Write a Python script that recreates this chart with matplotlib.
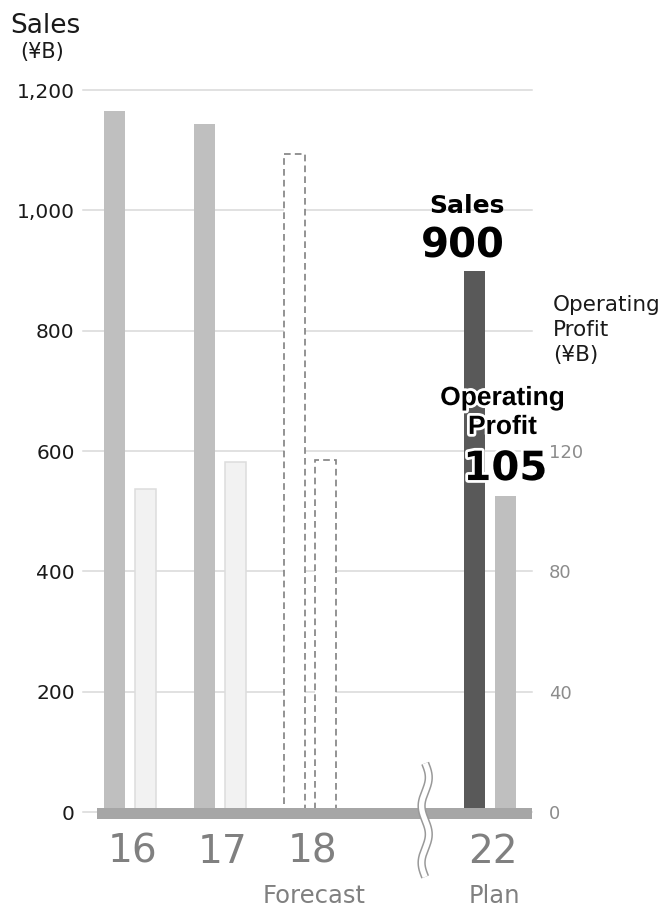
import numpy as np
import matplotlib
matplotlib.use("Agg")
import matplotlib.pyplot as plt
import matplotlib.patheffects as pe
from matplotlib.patches import Rectangle

# data
years = ['16', '17', '18', '22']
sublabels = ['', '', 'Forecast', 'Plan']
sales = [1165, 1143, 1094, 900]          # ¥B
profit = [107.5, 116.5, 117, 105]        # ¥B
sales_ticks = [0, 200, 400, 600, 800, 1000, 1200]
profit_ticks = [0, 40, 80, 120]

# layout
xpos = np.array([0, 1, 2, 4.0])
off = 0.17
width = 0.235
sales_colors = ['#bfbfbf', '#bfbfbf', 'white', '#595959']
profit_colors = ['#f2f2f2', '#f2f2f2', 'white', '#bfbfbf']

fig = plt.figure(figsize=(6.65, 9.1), dpi=100)
ax = fig.add_axes([83 / 665, 98 / 910, 449 / 665, 722 / 910])
ax2 = ax.twinx()

ax.set_xlim(-0.522, 4.467)
ax.set_ylim(0, 1200)
ax2.set_ylim(0, 240)

# gridlines
for t in sales_ticks:
    ax.axhline(t, color='#d9d9d9', lw=1.1, zorder=0, clip_on=False)

# sales bars
for i in range(len(years)):
    if sublabels[i] == 'Forecast':
        ax.bar(xpos[i] - off, sales[i], width, facecolor='white', edgecolor='#808080',
               lw=1.2, linestyle=(0, (4, 2.5)), zorder=2)
    else:
        ax.bar(xpos[i] - off, sales[i], width, color=sales_colors[i], zorder=2)

# profit bars (right scale)
for i in range(len(years)):
    if sublabels[i] == 'Forecast':
        ax2.bar(xpos[i] + off, profit[i], width, facecolor='white', edgecolor='#808080',
                lw=1.2, linestyle=(0, (4, 2.5)), zorder=2)
    elif sublabels[i] == 'Plan':
        ax2.bar(xpos[i] + off, profit[i], width, color=profit_colors[i], zorder=2)
    else:
        ax2.bar(xpos[i] + off, profit[i], width, facecolor=profit_colors[i],
                edgecolor='#dcdcdc', lw=1.1, zorder=2)

# thick base band
ax2.add_patch(Rectangle((-0.367, -12), 4.834, 19, transform=ax.transData,
                        color='#a6a6a6', lw=0, clip_on=False, zorder=3))

# axis break symbol
t = np.linspace(0, 1, 200)
bx = 3.28 + 0.04 * np.sin(2 * np.pi * 2 * t)
by = 81 - 189 * t
ax2.plot(bx, by, color='#999999', lw=6, solid_capstyle='butt',
         transform=ax.transData, clip_on=False, zorder=4)
ax2.plot(bx, by, color='white', lw=3.8, solid_capstyle='butt',
         transform=ax.transData, clip_on=False, zorder=5)

# ticks
for a in (ax, ax2):
    for s in a.spines.values():
        s.set_visible(False)
    a.tick_params(length=0)
ax.set_xticks([])
ax.set_yticks(sales_ticks)
ax.set_yticklabels([f'{v:,}' for v in sales_ticks], fontsize=14.5, color='#1a1a1a')
ax.tick_params(axis='y', pad=6)
ax2.set_yticks(profit_ticks)
ax2.set_yticklabels([str(v) for v in profit_ticks], fontsize=13, color='#8c8c8c')
ax2.tick_params(axis='y', pad=12)

# category labels
for i in range(len(years)):
    ax2.text(xpos[i] + 0.03, -66, years[i], transform=ax.transData, ha='center',
             va='center', fontsize=28, color='#808080', clip_on=False)
    if sublabels[i]:
        ax2.text(xpos[i] + 0.05, -140, sublabels[i], transform=ax.transData,
                 ha='center', va='center', fontsize=17.5, color='#808080', clip_on=False)

# plan annotations
ax2.text(xpos[3] - 0.26, 1008, 'Sales', transform=ax.transData, ha='center',
         va='center', fontsize=18, fontweight='bold', color='black', zorder=6)
ax2.text(xpos[3] - 0.30, 940, f'{sales[3]:,}', transform=ax.transData, ha='center',
         va='center', fontsize=29, fontweight='bold', color='black', zorder=6)
stroke = [pe.withStroke(linewidth=4, foreground='white')]
ax2.text(xpos[3] + 0.14, 688, 'Operating', transform=ax.transData, ha='center',
         va='center', fontsize=19, fontweight='bold', family='Liberation Sans',
         color='black', path_effects=stroke, zorder=6)
ax2.text(xpos[3] + 0.14, 640, 'Profit', transform=ax.transData, ha='center',
         va='center', fontsize=19, fontweight='bold', family='Liberation Sans',
         color='black', path_effects=stroke, zorder=6)
ax2.text(xpos[3] + 0.17, 570, f'{profit[3]:.0f}', transform=ax.transData, ha='center',
         va='center', fontsize=29, fontweight='bold', color='black',
         path_effects=stroke, zorder=6)

# axis titles
fig.text(10 / 665, 1 - 33 / 910, 'Sales', fontsize=19, color='#1a1a1a', va='baseline')
fig.text(20 / 665, 1 - 52 / 910, '(¥B)', fontsize=15, color='#1a1a1a', va='center')
fig.text(553 / 665, 1 - 295 / 910, 'Operating\nProfit\n(¥B)', fontsize=15.5,
         color='#1a1a1a', va='top', ha='left', linespacing=1.3)

fig.savefig('out.png', dpi=100)
